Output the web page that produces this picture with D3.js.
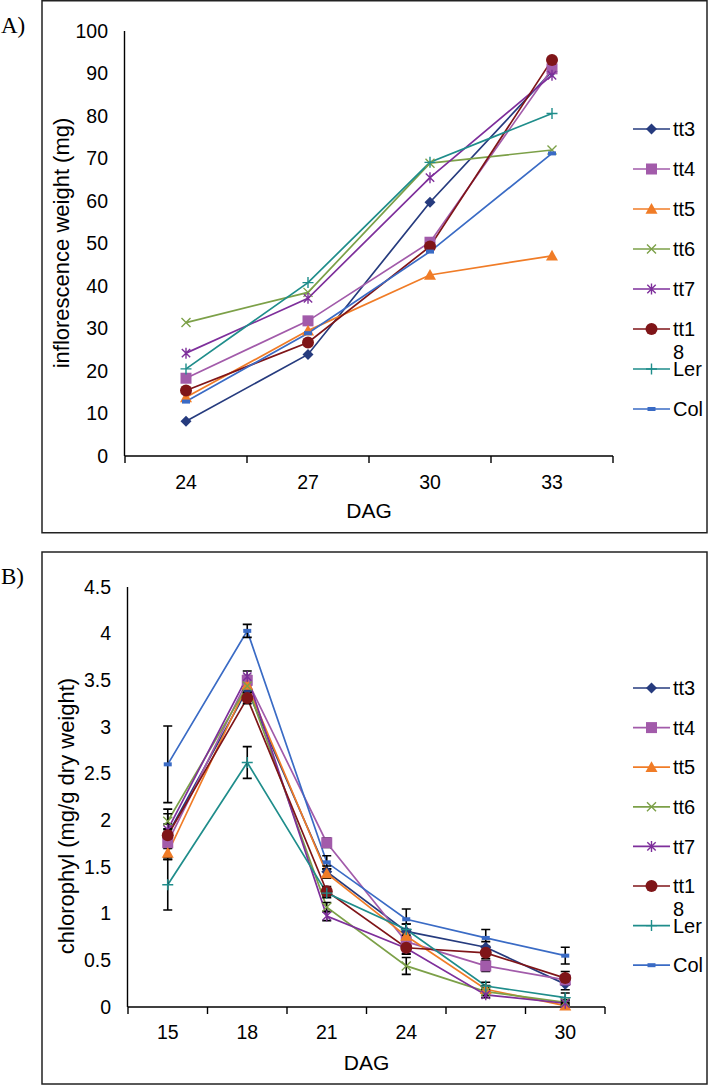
<!DOCTYPE html>
<html>
<head>
<meta charset="utf-8">
<script src="https://cdn.jsdelivr.net/npm/d3@7"></script>
<style>
body{margin:0;background:#fff}
text{font-family:"Liberation Sans",Arial,sans-serif;fill:#000}
</style>
</head>
<body>
<div></div>
<script>
// series setup (shared by both panels)
const seriesNames = ["tt3","tt4","tt5","tt6","tt7","tt18","Ler","Col"]
const seriesColors = ["#263B7E","#A25BAA","#F07C27","#7CA048","#7E2F9B","#7F1518","#1F8D8B","#3A6BC5"]
const seriesMarkers = ["diamond","square","triangle","cross","star","circle","plus","dash"]

// A) inflorescence weight (mg)
const daysA = ["24","27","30","33"]
const weightTt3  = [8.2, 23.9, 59.7, 90.5]
const weightTt4  = [18.3, 31.8, 50.3, 91.1]
const weightTt5  = [13.8, 29.5, 42.6, 47.1]
const weightTt6  = [31.4, 38.5, 68.9, 72.0]
const weightTt7  = [24.2, 37.1, 65.5, 89.6]
const weightTt18 = [15.4, 26.7, 49.3, 93.2]
const weightLer  = [20.5, 40.8, 69.1, 80.6]
const weightCol  = [12.8, 28.9, 48.1, 71.2]
const ticksA = [0,10,20,30,40,50,60,70,80,90,100]

// B) chlorophyl (mg/g dry weight)
const daysB = ["15","18","21","24","27","30"]
const chlTt3  = [1.85, 3.40, 1.45, 0.81, 0.64, 0.245]
const chlTt4  = [1.76, 3.50, 1.76, 0.70, 0.44, 0.29]
const chlTt5  = [1.65, 3.45, 1.43, 0.76, 0.19, 0.015]
const chlTt6  = [1.99, 3.44, 1.07, 0.44, 0.165, 0.05]
const chlTt7  = [1.90, 3.54, 0.975, 0.63, 0.13, 0.04]
const chlTt18 = [1.84, 3.31, 1.24, 0.635, 0.58, 0.31]
const chlLer  = [1.31, 2.62, 1.22, 0.83, 0.225, 0.10]
const chlCol  = [2.60, 4.03, 1.55, 0.94, 0.74, 0.55]
// error bars (+/-)
const errTt3  = [0.27, 0.08, 0.06, 0.08, 0.06, 0.06]
const errTt4  = [0.05, 0.05, 0.05, 0.05, 0.06, 0.05]
const errTt5  = [0.05, 0.06, 0.05, 0.06, 0.04, 0.02]
const errTt6  = [0.08, 0.07, 0.05, 0.09, 0.04, 0.03]
const errTt7  = [0.06, 0.06, 0.05, 0.06, 0.03, 0.03]
const errTt18 = [0.06, 0.06, 0.05, 0.07, 0.06, 0.07]
const errLer  = [0.27, 0.17, 0.05, 0.06, 0.04, 0.05]
const errCol  = [0.41, 0.07, 0.07, 0.11, 0.09, 0.09]
const ticksB = [0,0.5,1,1.5,2,2.5,3,3.5,4,4.5]

const svg = d3.select("div").append("svg").attr("width",709).attr("height",1085)

function translate(x,y){return `translate(${x}, ${y})`}

function drawMarker(g, type, color){
    switch(type){
        case "diamond": g.append("path").attr("d","M0,-5.5L5.5,0L0,5.5L-5.5,0Z").attr("fill",color); break
        case "square": g.append("rect").attr("x",-5.5).attr("y",-5.5).attr("width",11).attr("height",11).attr("fill",color); break
        case "triangle": g.append("path").attr("d","M0,-6L6,4.8L-6,4.8Z").attr("fill",color); break
        case "cross": g.append("path").attr("d","M-4.5,-4.5L4.5,4.5M-4.5,4.5L4.5,-4.5").attr("stroke",color).attr("stroke-width",1.4).attr("fill","none"); break
        case "star": g.append("path").attr("d","M-4.2,-4.2L4.2,4.2M-4.2,4.2L4.2,-4.2M0,-5.5L0,5.5").attr("stroke",color).attr("stroke-width",1.4).attr("fill","none"); break
        case "circle": g.append("circle").attr("r",6).attr("fill",color); break
        case "plus": g.append("path").attr("d","M-5.5,0L5.5,0M0,-5.5L0,5.5").attr("stroke",color).attr("stroke-width",1.4).attr("fill","none"); break
        case "dash": g.append("rect").attr("x",-4).attr("y",-2).attr("width",8).attr("height",4).attr("fill",color); break
    }
}

function drawPanel(cfg){
    const p = svg.append("g")
    // outer frame
    p.append("rect").attr("x",cfg.box[0]).attr("y",cfg.box[1]).attr("width",cfg.box[2]).attr("height",cfg.box[3])
        .attr("fill","none").attr("stroke","#222").attr("stroke-width",1.5)
    p.append("text").text(cfg.letter).attr("x",1).attr("y",cfg.letterY)
        .style("font-family","'Liberation Serif','Times New Roman',serif").style("font-size","23px")

    const x = d3.scaleBand().domain(cfg.days).range([cfg.left,cfg.right])
    const y = d3.scaleLinear().domain([0,cfg.yMax]).range([cfg.bottom,cfg.top])

    // y axis
    const yAxis = d3.axisLeft(y).tickValues(cfg.ticks).tickFormat(d=>String(d)).tickSize(7).tickPadding(10)
    const ya = p.append("g").attr("transform",translate(cfg.left,0)).call(yAxis)
    ya.select(".domain").attr("d",`M-0.5,${cfg.top}V${cfg.bottom}`)
    ya.selectAll("line").attr("x1",-7)
    ya.selectAll("text").style("font-size","19.5px").style("font-family","'Liberation Sans',Arial,sans-serif")
    ya.selectAll("path,line").attr("stroke","#000").attr("stroke-width",1.4)

    // x axis: labels at band centres, ticks at band edges
    const xAxis = d3.axisBottom(x).tickSize(0).tickPadding(cfg.xPad)
    const xa = p.append("g").attr("transform",translate(0,cfg.bottom)).call(xAxis)
    xa.select(".domain").attr("stroke","#000").attr("stroke-width",1.4).attr("d",`M${cfg.left},0H${cfg.right}`)
    xa.selectAll("text").style("font-size","19.5px").style("font-family","'Liberation Sans',Arial,sans-serif")
    const edges = cfg.days.map(d=>x(d)).concat([x.range()[1]])
    xa.selectAll("line.edge").data(edges).join("line").attr("class","edge")
        .attr("x1",d=>d).attr("x2",d=>d).attr("y1",0).attr("y2",7).attr("stroke","#000").attr("stroke-width",1.4)

    p.append("text").text("DAG").attr("x",(cfg.left+cfg.right)/2).attr("y",cfg.dagY)
        .attr("text-anchor","middle").style("font-size","21px")
    p.append("text").text(cfg.yLabel).attr("transform",translate(cfg.yLabelX,cfg.yLabelY)+" rotate(-90)")
        .attr("text-anchor","middle").style("font-size","22px")

    const cx = d=>x(d)+x.bandwidth()/2
    const line = d3.line().x(d=>cx(d.day)).y(d=>y(d.v))

    const series = seriesNames.map((name,i)=>({
        name:name, color:seriesColors[i], marker:seriesMarkers[i],
        pts:cfg.values[i].map((v,j)=>({day:cfg.days[j], v:v, e:cfg.errors?cfg.errors[i][j]:0}))
    }))

    const plot = p.append("g")
    series.forEach(s=>{
        plot.append("path").datum(s.pts).attr("d",line)
            .attr("fill","none").attr("stroke",s.color).attr("stroke-width",1.7)
    })
    if(cfg.errors){
        series.forEach(s=>{
            const eb = plot.append("g").selectAll("g").data(s.pts).join("g")
            eb.append("path").attr("d",d=>{
                const xx = cx(d.day), y1 = y(d.v+d.e), y2 = y(Math.max(0,d.v-d.e))
                return `M${xx},${y1}V${y2}M${xx-4.5},${y1}H${xx+4.5}M${xx-4.5},${y2}H${xx+4.5}`
            }).attr("stroke","#000").attr("stroke-width",1.6).attr("fill","none")
        })
    }
    series.forEach(s=>{
        plot.append("g").selectAll("g").data(s.pts).join("g")
            .attr("transform",d=>translate(cx(d.day),y(d.v)))
            .each(function(){drawMarker(d3.select(this),s.marker,s.color)})
    })

    // legend
    const lg = p.append("g").selectAll("g").data(series).join("g")
        .attr("transform",(d,i)=>translate(0,cfg.legendTop+i*cfg.legendStep))
    lg.append("line").attr("x1",633).attr("x2",670).attr("y1",0).attr("y2",0)
        .attr("stroke",d=>d.color).attr("stroke-width",1.7)
    lg.each(function(d){drawMarker(d3.select(this).append("g").attr("transform",translate(651.5,0)),d.marker,d.color)})
    lg.append("text").attr("x",673).attr("dy","0.36em").style("font-size","20px")
        .each(function(d){
            const t = d3.select(this)
            if(d.name==="tt18"){
                t.append("tspan").text("tt1")
                t.append("tspan").attr("x",673).attr("dy",23).text("8")
            }else{
                t.text(d.name)
            }
        })
}

drawPanel({
    letter:"A)", letterY:33, box:[42,0.75,665,532],
    days:daysA, left:125, right:613, top:31, bottom:456, yMax:100, ticks:ticksA,
    values:[weightTt3,weightTt4,weightTt5,weightTt6,weightTt7,weightTt18,weightLer,weightCol],
    errors:null, xPad:19, dagY:518,
    yLabel:"inflorescence weight (mg)", yLabelX:69, yLabelY:243,
    legendTop:129, legendStep:40
})

drawPanel({
    letter:"B)", letterY:584, box:[42,552,665,532],
    days:daysB, left:128, right:605, top:587, bottom:1007, yMax:4.5, ticks:ticksB,
    values:[chlTt3,chlTt4,chlTt5,chlTt6,chlTt7,chlTt18,chlLer,chlCol],
    errors:[errTt3,errTt4,errTt5,errTt6,errTt7,errTt18,errLer,errCol], xPad:18, dagY:1070,
    yLabel:"chlorophyl (mg/g dry weight)", yLabelX:74, yLabelY:816,
    legendTop:688, legendStep:39.6
})
</script>
</body>
</html>
